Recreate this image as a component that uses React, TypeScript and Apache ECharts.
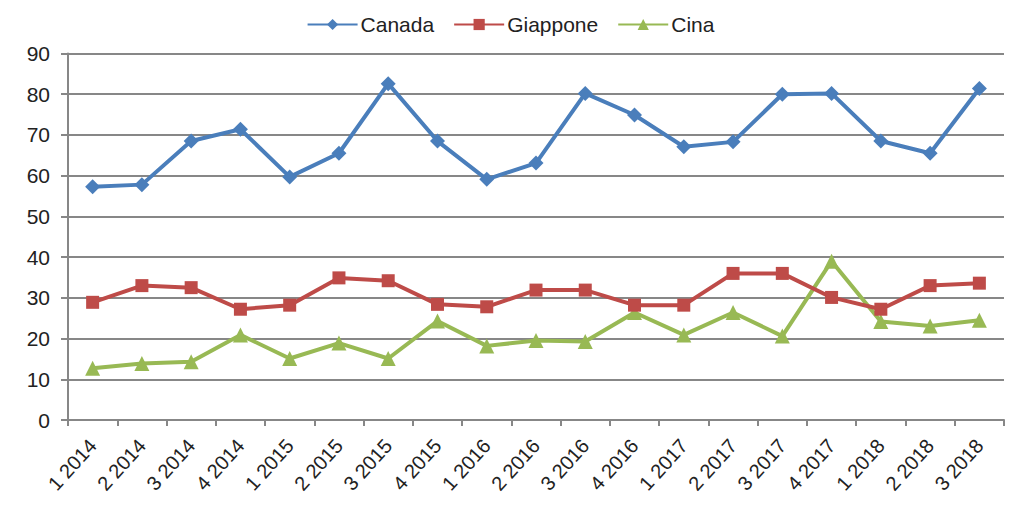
import React, { useEffect, useRef } from "react";
import * as echarts from "echarts";

const categories = [
  "1 2014", "2 2014", "3 2014", "4 2014", "1 2015", "2 2015", "3 2015", "4 2015",
  "1 2016", "2 2016", "3 2016", "4 2016", "1 2017", "2 2017", "3 2017", "4 2017",
  "1 2018", "2 2018", "3 2018",
];
const canada = [57.3, 57.8, 68.5, 71.4, 59.7, 65.5, 82.6, 68.5, 59.1, 63.1, 80.2, 74.9, 67.1, 68.3, 80.0, 80.2, 68.5, 65.5, 81.4];
const giappone = [28.9, 33.0, 32.5, 27.2, 28.2, 34.9, 34.2, 28.4, 27.8, 31.9, 31.9, 28.2, 28.2, 36.0, 36.0, 30.1, 27.2, 33.0, 33.6];
const cina = [12.7, 13.9, 14.3, 20.9, 15.1, 18.9, 15.1, 24.3, 18.2, 19.5, 19.3, 26.4, 20.9, 26.4, 20.6, 39.0, 24.2, 23.1, 24.5];
const seriesNames = ["Canada", "Giappone", "Cina"];
const yTicks = { min: 0, max: 90, interval: 10 };

const FONT = "Liberation Sans";

export default function App() {
  const ref = useRef<HTMLDivElement>(null);
  useEffect(() => {
    const chart = echarts.init(ref.current!, null, { renderer: "svg" });
    const colors = ["#4A7EBB", "#BE4B48", "#98B954"];
    const symbols = ["diamond", "rect", "triangle"];
    const sizes = [15, 13, 15];
    const datas = [canada, giappone, cina];
    chart.setOption({
      animation: false,
      color: colors,
      legend: {
        top: 1,
        left: "center",
        itemWidth: 50,
        itemHeight: 14,
        itemGap: 19,
        textStyle: { fontFamily: FONT, fontSize: 21, color: "#222", padding: [0, 0, 0, -2] },
        data: seriesNames,
      },
      grid: { left: 60, right: 9, top: 45.5, bottom: 82 },
      xAxis: {
        type: "category",
        data: categories,
        boundaryGap: true,
        axisLine: { lineStyle: { color: "#878787", width: 2 } },
        axisTick: { show: true, length: 6, lineStyle: { color: "#878787", width: 2 } },
        axisLabel: {
          rotate: 48,
          fontFamily: FONT,
          fontSize: 20,
          color: "#222",
          margin: 22,
          interval: 0,
        },
      },
      yAxis: {
        type: "value",
        min: yTicks.min,
        max: yTicks.max,
        interval: yTicks.interval,
        axisLine: { show: true, lineStyle: { color: "#878787", width: 2 } },
        axisTick: { show: true, length: 7, lineStyle: { color: "#878787", width: 2 } },
        splitLine: { lineStyle: { color: "#878787", width: 2 } },
        axisLabel: { fontFamily: FONT, fontSize: 21, color: "#222", margin: 18 },
      },
      series: seriesNames.map((name, i) => ({
        name,
        type: "line",
        data: datas[i],
        symbol: symbols[i],
        symbolSize: sizes[i],
        lineStyle: { width: 4, color: colors[i] },
        itemStyle: { color: colors[i] },
        z: 3 - i,
      })),
    });
    return () => chart.dispose();
  }, []);
  return <div ref={ref} style={{ width: 1005, height: 494 }} />;
}
